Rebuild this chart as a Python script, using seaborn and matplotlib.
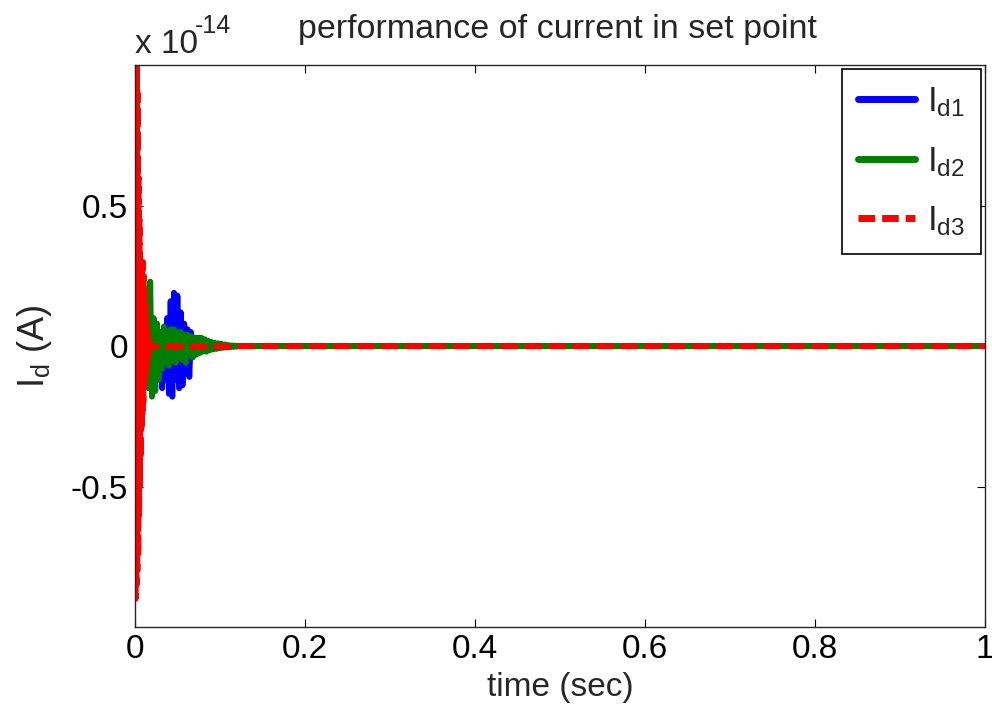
import numpy as np
import seaborn as sns
import matplotlib.pyplot as plt

sns.set_theme(style="ticks")
plt.rcParams['font.family'] = ['Liberation Sans', 'DejaVu Sans']
plt.rcParams['mathtext.fontset'] = 'custom'
plt.rcParams['mathtext.rm'] = 'Liberation Sans'
plt.rcParams['mathtext.it'] = 'Liberation Sans:italic'

# values in units of 1e-14 A
# Id1 / Id2 sampled every 2 ms over the first 0.14 s, then flat to 1 s
id1 = [0, 0.05, -0.06, 0.08, -0.05, 0.04, -0.07, 0.06, -0.05, 0.04, -0.04,
       0.03, -0.05, 0.04, -0.06, 0.02, -0.15, 0.06, -0.12, 0.10, -0.17,
       0.16, -0.18, 0.19, -0.12, 0.18, -0.15, 0.12, -0.14, 0.08, -0.10,
       0.06, -0.11, 0.05, -0.04, 0.03, -0.03, 0.02, -0.02, 0.02, -0.015,
       0.01, -0.01, 0.01, -0.008, 0.006, -0.005, 0.004, -0.003, 0.002, -0.002,
       0.001, 0, 0, 0, 0, 0, 0, 0, 0, 0, 0, 0, 0, 0, 0, 0, 0, 0, 0, 0]
id2 = [0, 0.06, -0.08, 0.12, -0.10, 0.15, -0.12, 0.18, -0.15, 0.23, -0.18,
       0.10, -0.16, 0.08, -0.12, 0.05, -0.08, 0.07, -0.06, 0.05, -0.07,
       0.06, -0.05, 0.06, -0.06, 0.05, -0.04, 0.05, -0.05, 0.04, -0.06,
       0.04, -0.03, 0.035, -0.04, 0.03, -0.03, 0.03, -0.025, 0.03, -0.02,
       0.025, -0.02, 0.02, -0.015, 0.015, -0.012, 0.012, -0.01, 0.01, -0.008,
       0.008, -0.006, 0.006, -0.005, 0.004, -0.004, 0.003, -0.003, 0.002, -0.002,
       0.001, -0.001, 0, 0, 0, 0, 0, 0, 0, 0]
# Id3 sampled every 0.5 ms over the first 0.02 s
id3 = [0, 1.05, -0.9, 1.05, -0.85, 1.05, -0.8, 0.9, -0.75, 0.6, -0.6,
       0.45, -0.5, 0.3, -0.4, 0.25, -0.3, 0.28, -0.25, 0.3, -0.2,
       0.25, -0.15, 0.2, -0.12, 0.15, -0.1, 0.1, -0.08, 0.06, -0.05,
       0.04, -0.03, 0.02, -0.02, 0.01, -0.01, 0.005, 0, 0, 0]
t_end = 1.0

t12 = list(np.linspace(0, 0.14, len(id1))) + [t_end]
t3 = list(np.linspace(0, 0.02, len(id3))) + [t_end]
id1 = id1 + [0]
id2 = id2 + [0]
id3 = id3 + [0]

fig = plt.figure(figsize=(9.92, 7.1), dpi=100)
ax = fig.add_axes([0.136, 0.117, 0.857, 0.791])

lw = 4.2
sns.lineplot(x=t12, y=id1, ax=ax, color='#0000ff', lw=lw, label=r'$\mathrm{I_{d1}}$',
             sort=False, estimator=None)
sns.lineplot(x=t12, y=id2, ax=ax, color='#008000', lw=lw, label=r'$\mathrm{I_{d2}}$',
             sort=False, estimator=None)
sns.lineplot(x=t3, y=id3, ax=ax, color='#ff0000', lw=lw, label=r'$\mathrm{I_{d3}}$',
             sort=False, estimator=None)
ax.lines[-1].set_dashes((3.0, 1.1))

ax.set_xlim(0, 1)
ax.set_ylim(-1, 1)
ax.set_xticks([0, 0.2, 0.4, 0.6, 0.8, 1])
ax.set_xticklabels(['0', '0.2', '0.4', '0.6', '0.8', '1'])
ax.set_yticks([-0.5, 0, 0.5])
ax.set_yticklabels(['-0.5', '0', '0.5'])
ax.tick_params(direction='in', top=True, right=True, length=6, width=0.8,
               labelsize=24, colors='black', pad=5)
for s in ax.spines.values():
    s.set_visible(True)
    s.set_color('#262626')
    s.set_linewidth(1.0)

ax.set_xlabel('time (sec)', fontsize=24, labelpad=5)
ax.set_ylabel(r'$\mathrm{I_d}$ (A)', fontsize=26, labelpad=12)
fig.text(0.562, 0.958, 'performance of current in set point', ha='center',
         va='center', fontsize=24.5)
fig.text(0.136, 0.926, 'x 10', ha='left', va='baseline', fontsize=24)
fig.text(0.196, 0.953, '-14', ha='left', va='baseline', fontsize=18)

leg = ax.legend(loc='upper right', fontsize=25, frameon=True, fancybox=False,
                edgecolor='black', handlelength=1.65, borderaxespad=0.12,
                labelspacing=0.75, handletextpad=0.35, borderpad=0.45,
                framealpha=1)
leg.get_frame().set_linewidth(1.2)
for h in leg.get_lines():
    h.set_linewidth(5)
leg.get_lines()[-1].set_dashes((2.4, 1.0))

fig.savefig('out.png', dpi=100)
